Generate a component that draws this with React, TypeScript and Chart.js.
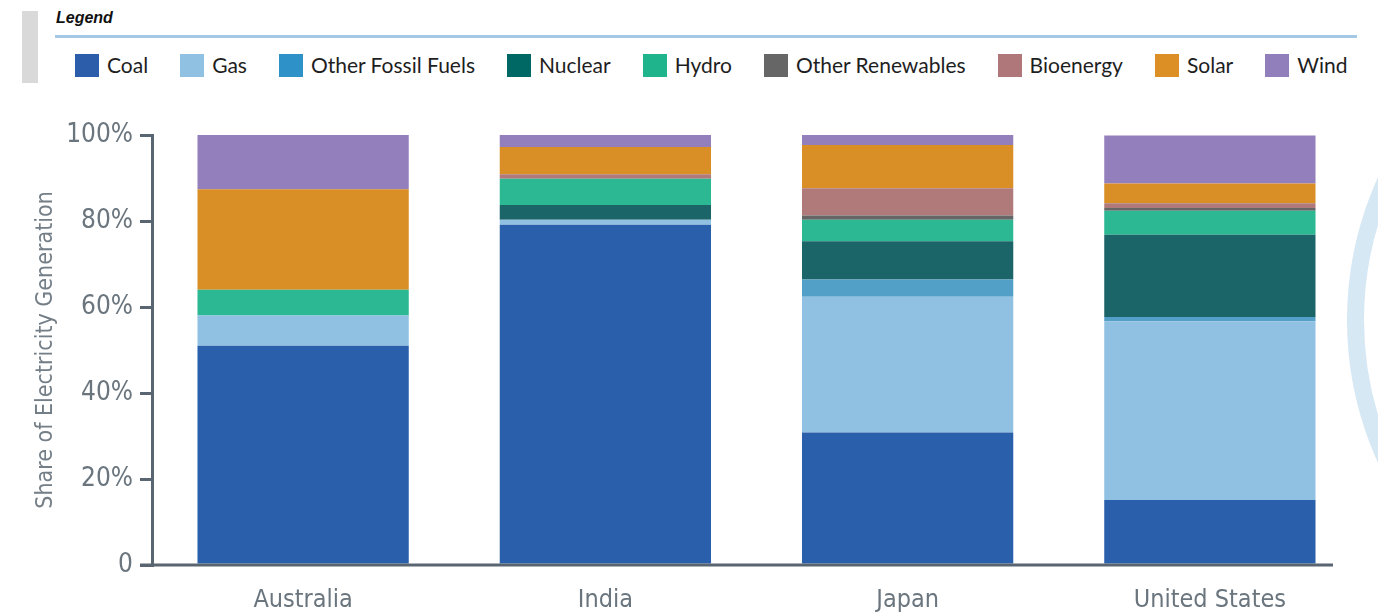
import React, { useEffect, useRef } from "react";
import { Chart, registerables } from "chart.js";

Chart.register(...registerables);

const categories = ["Australia", "India", "Japan", "United States"];
const seriesNames = ["Coal", "Gas", "Other Fossil Fuels", "Nuclear", "Hydro", "Other Renewables", "Bioenergy", "Solar", "Wind"];
const coal = [51.0, 79.1, 30.8, 15.1];
const gas = [7.0, 1.2, 31.6, 41.6];
const otherFossil = [0, 0, 4.0, 1.0];
const nuclear = [0, 3.4, 8.9, 19.1];
const hydro = [6.0, 6.1, 5.0, 5.6];
const otherRenewables = [0, 0, 1.0, 0.6];
const bioenergy = [0, 1.1, 6.3, 1.1];
const solar = [23.4, 6.3, 10.1, 4.6];
const wind = [12.6, 2.8, 2.3, 11.2];
const yTickValues = [0, 20, 40, 60, 80, 100];
const yTickLabels = ["0", "20%", "40%", "60%", "80%", "100%"];

const barColors = ["#2a5fac", "#90c0e2", "#52a0c8", "#1b6569", "#2bb892", "#666666", "#b07a7b", "#d98e26", "#937fbb"];
const legendColors = ["#2b5dab", "#90c1e2", "#2e91c8", "#006864", "#20b48c", "#666666", "#b0777a", "#db8f24", "#917fbb"];

const axisColor = "#596570";
const condensed = '"Liberation Sans Narrow", "DejaVu Sans Condensed", "Liberation Sans", sans-serif';

export default function App() {
  const canvasRef = useRef<HTMLCanvasElement | null>(null);

  useEffect(() => {
    const canvas = canvasRef.current;
    if (!canvas) return;
    const allSeries = [coal, gas, otherFossil, nuclear, hydro, otherRenewables, bioenergy, solar, wind];
    const xAxisLine = {
      id: "xAxisLine",
      afterDatasetsDraw(chart: any) {
        const { ctx, chartArea } = chart;
        ctx.save();
        ctx.strokeStyle = axisColor;
        ctx.lineWidth = 3;
        ctx.beginPath();
        ctx.moveTo(chartArea.left - 12, chartArea.bottom);
        ctx.lineTo(chartArea.right - 28, chartArea.bottom);
        ctx.stroke();
        ctx.restore();
      },
    };
    const chart = new Chart(canvas, {
      type: "bar",
      data: {
        labels: categories,
        datasets: seriesNames.map((name, i) => ({
          label: name,
          data: allSeries[i],
          backgroundColor: barColors[i],
          borderWidth: 0,
          categoryPercentage: 1,
          barPercentage: 0.699,
        })),
      },
      options: {
        responsive: false,
        animation: false,
        layout: { padding: { left: 0, right: 17, top: 135, bottom: 0 } },
        plugins: { legend: { display: false }, tooltip: { enabled: false } },
        scales: {
          x: {
            stacked: true,
            grid: { display: false, drawTicks: false, tickLength: 0 },
            border: { display: false },
            ticks: {
              padding: 20,
              color: "#6a757e",
              font: { family: condensed, size: 25 },
            },
            afterFit: (scale: any) => {
              scale.height = 48;
            },
          },
          y: {
            stacked: true,
            min: 0,
            max: 100,
            afterBuildTicks: (scale: any) => {
              scale.ticks = yTickValues.map((v) => ({ value: v }));
            },
            ticks: {
              padding: 7,
              color: "#6a757e",
              font: { family: condensed, size: 26 },
              callback: (value: any) => {
                const idx = yTickValues.indexOf(Number(value));
                return idx >= 0 ? yTickLabels[idx] : "";
              },
            },
            grid: {
              drawOnChartArea: false,
              drawTicks: true,
              tickLength: 12,
              color: axisColor,
              lineWidth: 3,
            },
            border: { display: true, color: axisColor, width: 3 },
            title: {
              display: true,
              text: "Share of Electricity Generation",
              color: "#737e87",
              font: { family: condensed, size: 23 },
              padding: { top: 32, bottom: 0 },
            },
            afterFit: (scale: any) => {
              scale.width = 152;
            },
          },
        },
      },
      plugins: [xAxisLine],
    });
    return () => chart.destroy();
  }, []);

  return (
    <div
      style={{
        position: "fixed",
        left: 0,
        top: 0,
        width: 1378,
        height: 613,
        overflow: "hidden",
        background: "#ffffff",
      }}
    >
      <div
        style={{
          position: "absolute",
          left: 1347,
          top: -25,
          width: 690,
          height: 690,
          borderRadius: "50%",
          border: "17px solid #d6e8f3",
          boxSizing: "border-box",
        }}
      />
      <div style={{ position: "absolute", left: 22, top: 11, width: 16, height: 72, background: "#d9d9d9" }} />
      <div
        style={{
          position: "absolute",
          left: 56,
          top: 7,
          fontFamily: '"Liberation Sans", Arial, sans-serif',
          fontWeight: 700,
          fontStyle: "italic",
          fontSize: 16,
          lineHeight: "22px",
          color: "#111111",
        }}
      >
        Legend
      </div>
      <div style={{ position: "absolute", left: 55, top: 35, width: 1302, height: 3, background: "#a3c9e6" }} />
      <div
        style={{
          position: "absolute",
          left: 75,
          top: 53,
          height: 24,
          display: "flex",
          alignItems: "center",
          gap: 32,
          fontFamily: 'Lato, "Noto Sans", sans-serif',
          fontSize: 21,
          color: "#1e1e1e",
          whiteSpace: "nowrap",
        }}
      >
        {seriesNames.map((name, i) => (
          <div key={name} style={{ display: "flex", alignItems: "center" }}>
            <span style={{ display: "inline-block", width: 24, height: 23, background: legendColors[i], marginRight: 8 }} />
            <span style={{ position: "relative", top: -1 }}>{name}</span>
          </div>
        ))}
      </div>
      <canvas ref={canvasRef} width={1378} height={613} style={{ position: "absolute", left: 0, top: 0 }} />
    </div>
  );
}
